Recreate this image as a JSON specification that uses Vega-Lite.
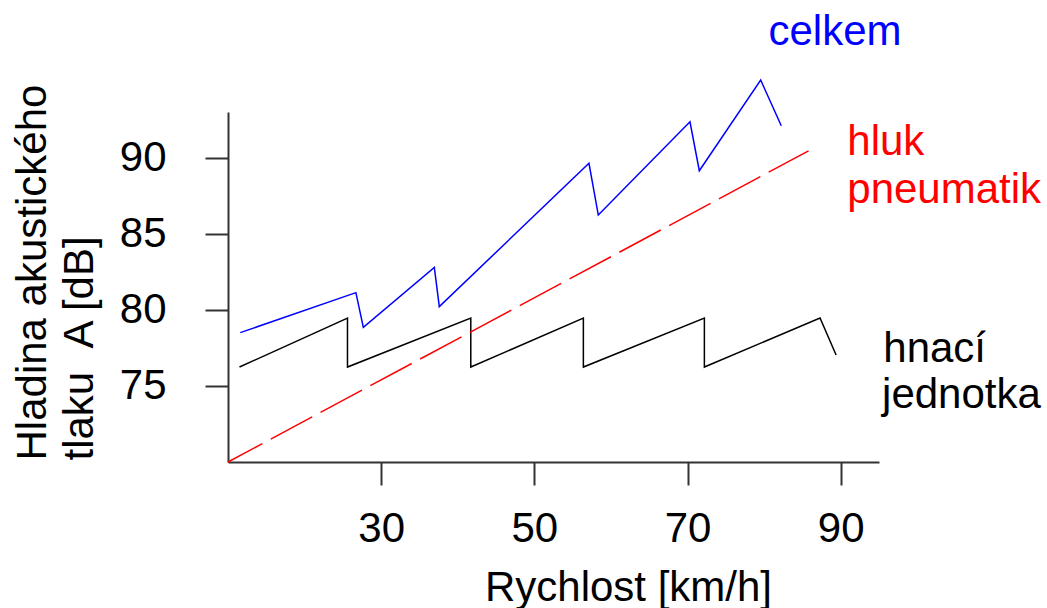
{
  "$schema": "https://vega.github.io/schema/vega-lite/v6.json",
  "autosize": "none",
  "width": 651,
  "height": 350,
  "padding": {"left": 228, "top": 112, "right": 168, "bottom": 146},
  "background": "white",
  "config": {
    "view": {"stroke": null},
    "font": "Liberation Sans",
    "axis": {
      "grid": false,
      "domainColor": "#333333",
      "domainWidth": 2,
      "tickColor": "#333333",
      "tickWidth": 2,
      "tickSize": 23,
      "labelFont": "Liberation Sans",
      "labelFontSize": 42,
      "labelColor": "black",
      "titleFont": "Liberation Sans",
      "titleFontSize": 42,
      "titleFontWeight": "normal",
      "titleColor": "black"
    }
  },
  "datasets": {
    "lines": [
      {"s": "celkem", "i": 0, "x": 11.6, "y": 78.5},
      {"s": "celkem", "i": 1, "x": 26.7, "y": 81.13},
      {"s": "celkem", "i": 2, "x": 27.67, "y": 78.85},
      {"s": "celkem", "i": 3, "x": 36.94, "y": 82.79},
      {"s": "celkem", "i": 4, "x": 37.59, "y": 80.21},
      {"s": "celkem", "i": 5, "x": 57.13, "y": 89.63},
      {"s": "celkem", "i": 6, "x": 58.35, "y": 86.23},
      {"s": "celkem", "i": 7, "x": 70.32, "y": 92.36},
      {"s": "celkem", "i": 8, "x": 71.54, "y": 89.14},
      {"s": "celkem", "i": 9, "x": 79.55, "y": 95.1},
      {"s": "celkem", "i": 10, "x": 82.24, "y": 92.1},
      {"s": "hnaci", "i": 0, "x": 11.5, "y": 76.24},
      {"s": "hnaci", "i": 1, "x": 25.6, "y": 79.46},
      {"s": "hnaci", "i": 2, "x": 25.6, "y": 76.24},
      {"s": "hnaci", "i": 3, "x": 41.7, "y": 79.46},
      {"s": "hnaci", "i": 4, "x": 41.7, "y": 76.24},
      {"s": "hnaci", "i": 5, "x": 56.4, "y": 79.46},
      {"s": "hnaci", "i": 6, "x": 56.4, "y": 76.24},
      {"s": "hnaci", "i": 7, "x": 72.2, "y": 79.46},
      {"s": "hnaci", "i": 8, "x": 72.2, "y": 76.24},
      {"s": "hnaci", "i": 9, "x": 87.3, "y": 79.46},
      {"s": "hnaci", "i": 10, "x": 89.4, "y": 77.03},
      {"s": "pneu", "i": 0, "x": 10, "y": 70},
      {"s": "pneu", "i": 1, "x": 85.8, "y": 90.45}
    ],
    "labels": [
      {"s": "celkem", "label": "celkem", "x": 89.25, "y": 97.4, "a": "center"},
      {"s": "pneu", "label": "hluk", "x": 90.86, "y": 90.17, "a": "left"},
      {"s": "pneu", "label": "pneumatik", "x": 90.86, "y": 87.02, "a": "left"},
      {"s": "hnaci", "label": "hnací", "x": 95.56, "y": 76.59, "a": "left"},
      {"s": "hnaci", "label": "jednotka", "x": 95.4, "y": 73.53, "a": "left"}
    ]
  },
  "layer": [
    {
      "data": {"name": "lines"},
      "transform": [{"filter": "datum.s !== 'pneu'"}],
      "mark": {"type": "line", "strokeWidth": 1.5, "clip": false},
      "encoding": {
        "x": {
          "field": "x", "type": "quantitative",
          "scale": {"domain": [10, 95], "nice": false, "zero": false},
          "axis": {
            "values": [30, 50, 70, 90],
            "labelPadding": 23,
            "labelBaseline": "top",
            "title": "Rychlost [km/h]",
            "titleX": 400,
            "titleY": 138,
            "titleAnchor": "middle",
            "titleAlign": "center",
            "titleBaseline": "alphabetic"
          }
        },
        "y": {
          "field": "y", "type": "quantitative",
          "scale": {"domain": [70, 93], "nice": false, "zero": false},
          "axis": {
            "values": [75, 80, 85, 90],
            "labelPadding": 39,
            "labelBaseline": "middle",
            "title": ["Hladina akustického", "tlaku \u00a0A [dB]"],
            "titleAngle": -90,
            "titleAnchor": "start",
            "titleAlign": "left",
            "titleBaseline": "alphabetic",
            "titleLineHeight": 47,
            "titleX": -183,
            "titleY": 348
          }
        },
        "detail": {"field": "s"},
        "order": {"field": "i", "type": "quantitative"},
        "color": {
          "field": "s", "type": "nominal",
          "scale": {"domain": ["celkem", "hnaci", "pneu"], "range": ["#0000ff", "#000000", "#ff0000"]},
          "legend": null
        }
      }
    },
    {
      "data": {"name": "lines"},
      "transform": [{"filter": "datum.s === 'pneu'"}],
      "mark": {"type": "line", "strokeWidth": 1.5, "strokeDash": [47, 9.5], "strokeDashOffset": 8, "clip": false},
      "encoding": {
        "x": {"field": "x", "type": "quantitative"},
        "y": {"field": "y", "type": "quantitative"},
        "order": {"field": "i", "type": "quantitative"},
        "color": {"field": "s", "type": "nominal", "legend": null}
      }
    },
    {
      "data": {"name": "labels"},
      "transform": [{"filter": "datum.a === 'center'"}],
      "mark": {"type": "text", "fontSize": 42, "font": "Liberation Sans", "baseline": "alphabetic", "align": "center", "clip": false},
      "encoding": {
        "x": {"field": "x", "type": "quantitative"},
        "y": {"field": "y", "type": "quantitative"},
        "text": {"field": "label"},
        "color": {"field": "s", "type": "nominal", "legend": null}
      }
    },
    {
      "data": {"name": "labels"},
      "transform": [{"filter": "datum.a === 'left'"}],
      "mark": {"type": "text", "fontSize": 42, "font": "Liberation Sans", "baseline": "alphabetic", "align": "left", "clip": false},
      "encoding": {
        "x": {"field": "x", "type": "quantitative"},
        "y": {"field": "y", "type": "quantitative"},
        "text": {"field": "label"},
        "color": {"field": "s", "type": "nominal", "legend": null}
      }
    }
  ]
}
